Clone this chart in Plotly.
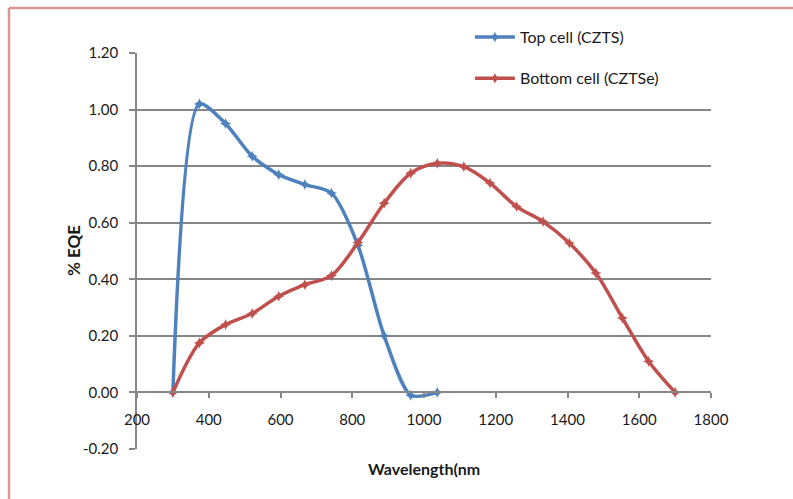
import plotly.graph_objects as go

wavelength_top = [300, 374, 447, 521, 595, 668, 742, 816, 889, 963, 1037]
eqe_top = [0.00, 1.02, 0.95, 0.835, 0.77, 0.735, 0.705, 0.52, 0.20, -0.01, 0.00]

wavelength_bottom = [300, 374, 447, 521, 595, 668, 742, 816, 889, 963, 1037,
                     1111, 1184, 1258, 1332, 1405, 1479, 1553, 1626, 1700]
eqe_bottom = [0.00, 0.175, 0.24, 0.279, 0.34, 0.381, 0.413, 0.53, 0.669, 0.775, 0.81,
              0.798, 0.74, 0.657, 0.604, 0.528, 0.422, 0.263, 0.11, 0.00]

x_ticks = [200, 400, 600, 800, 1000, 1200, 1400, 1600, 1800]
y_ticks = [-0.2, 0.0, 0.2, 0.4, 0.6, 0.8, 1.0, 1.2]

BLUE = "#4F81BD"
RED = "#C0504D"
FONT = "Lato"

fig = go.Figure()
fig.add_trace(go.Scatter(
    x=wavelength_top, y=eqe_top, name="Top cell (CZTS)",
    mode="lines+markers", line=dict(color=BLUE, width=3.5, shape="spline", smoothing=0.75),
    marker=dict(symbol="star-diamond", size=8, color=BLUE), legend="legend"))
fig.add_trace(go.Scatter(
    x=wavelength_bottom, y=eqe_bottom, name="Bottom cell (CZTSe)",
    mode="lines+markers", line=dict(color=RED, width=3.5, shape="spline", smoothing=0.9),
    marker=dict(symbol="star-diamond", size=8, color=RED), legend="legend2"))

fig.update_layout(
    width=793, height=499,
    margin=dict(l=137, r=82, t=53, b=50),
    paper_bgcolor="white", plot_bgcolor="white",
    font=dict(family=FONT, size=15, color="#1a1a1a"),
    legend=dict(x=0.58, y=1.04, xanchor="left", yanchor="middle",
                bgcolor="rgba(0,0,0,0)", font=dict(size=16), itemwidth=40),
    legend2=dict(x=0.58, y=0.936, xanchor="left", yanchor="middle",
                 bgcolor="rgba(0,0,0,0)", font=dict(size=16), itemwidth=40),
    xaxis=dict(range=[200, 1800], tickvals=x_ticks, ticktext=[str(v) for v in x_ticks],
               anchor="free", position=1/7, showgrid=False, zeroline=False,
               showline=True, linecolor="#868686", linewidth=1.5,
               ticks="outside", ticklen=5, tickcolor="#868686", tickwidth=1.5,
               ticklabelstandoff=9, tickfont=dict(size=15)),
    yaxis=dict(range=[-0.2, 1.2], tickvals=y_ticks,
               ticktext=[f"{v:.2f}" for v in y_ticks], domain=[0, 1],
               showgrid=True, gridcolor="#868686", gridwidth=1.6, zeroline=False,
               showline=True, linecolor="#868686", linewidth=1.6,
               ticks="outside", ticklen=6, tickcolor="#868686", tickwidth=1.5,
               ticklabelstandoff=8, tickfont=dict(size=15)),
    showlegend=True,
)

fig.add_annotation(text="<b>Wavelength(nm</b>", xref="paper", yref="paper",
                   x=0.5, y=-0.05, xanchor="center", yanchor="middle",
                   showarrow=False, font=dict(size=16))
fig.add_annotation(text="<b>% EQE</b>", xref="paper", yref="paper",
                   x=(73 - 137) / 574, y=0.5, xanchor="center", yanchor="middle",
                   textangle=-90, showarrow=False, font=dict(size=17))

# chart-area border (top and left edges visible)
fig.add_shape(type="line", xref="paper", yref="paper",
              x0=(9 - 137) / 574, x1=(800 - 137) / 574,
              y0=(449 - 8) / 396, y1=(449 - 8) / 396,
              line=dict(color="#D99694", width=2.5))
fig.add_shape(type="line", xref="paper", yref="paper",
              x0=(9 - 137) / 574, x1=(9 - 137) / 574,
              y0=(449 - 8) / 396, y1=(449 - 510) / 396,
              line=dict(color="#D99694", width=2.5))

fig.write_html("out.html")
